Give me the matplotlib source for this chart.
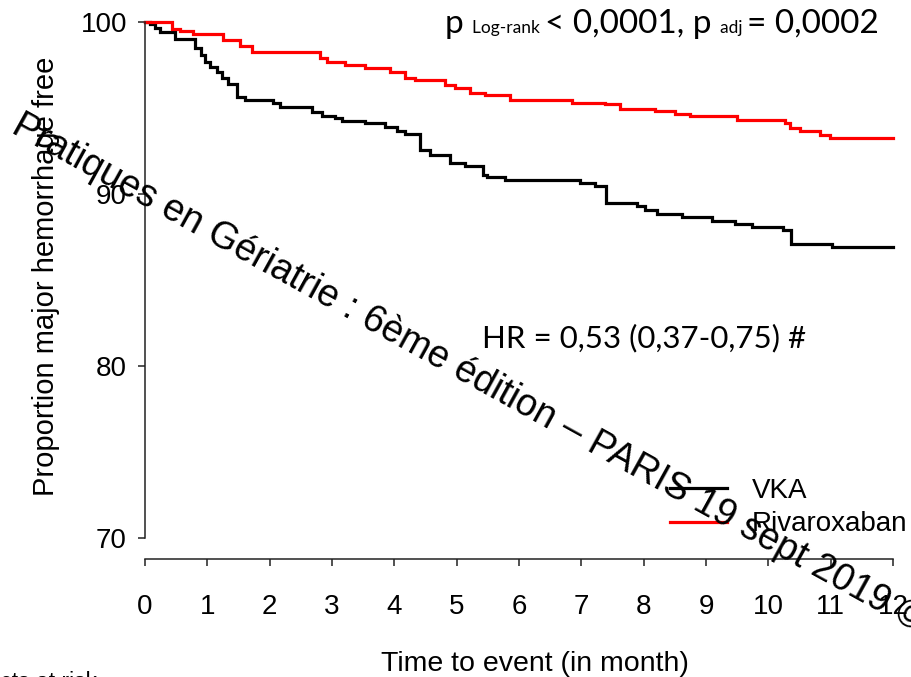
import matplotlib
matplotlib.use("Agg")
import matplotlib.pyplot as plt

W, H = 911, 677
DPI = 100

# ---- data ----
vka_t = [0, 0.08, 0.16, 0.24, 0.48, 0.80, 0.90, 0.97, 1.05, 1.15, 1.23, 1.33, 1.48, 1.60,
         2.05, 2.17, 2.68, 2.84, 3.05, 3.16, 3.53, 3.85, 4.04, 4.17, 4.41, 4.57, 4.89,
         5.13, 5.42, 5.49, 5.78, 6.98, 7.22, 7.40, 7.89, 8.02, 8.21, 8.62, 9.10, 9.47,
         9.74, 10.24, 10.36, 11.02, 12.0]
vka_v = [100, 99.88, 99.65, 99.44, 99.0, 98.5, 98.1, 97.67, 97.4, 97.1, 96.74, 96.4, 95.64, 95.47,
         95.29, 95.03, 94.77, 94.53, 94.42, 94.24, 94.13, 93.9, 93.66, 93.49, 92.56, 92.27, 91.8,
         91.63, 91.1, 90.99, 90.81, 90.64, 90.48, 89.48, 89.32, 89.07, 88.84, 88.66, 88.45, 88.26,
         88.1, 87.91, 87.09, 86.94, 86.94]

riva_t = [0, 0.43, 0.56, 0.77, 1.25, 1.52, 1.72, 2.80, 2.92, 3.21, 3.53, 3.93, 4.17, 4.33,
          4.81, 4.97, 5.21, 5.45, 5.86, 6.85, 7.38, 7.62, 8.18, 8.50, 8.74, 9.50, 10.27,
          10.35, 10.51, 10.83, 10.99, 12.0]
riva_v = [100, 99.6, 99.5, 99.3, 98.95, 98.6, 98.26, 97.9, 97.67, 97.5, 97.3, 97.1, 96.74, 96.63,
          96.34, 96.16, 95.87, 95.76, 95.47, 95.3, 95.23, 94.94, 94.83, 94.65, 94.55, 94.3, 94.13,
          93.85, 93.68, 93.43, 93.24, 93.24]

x_ticks = list(range(0, 13))
y_ticks = [70, 80, 90, 100]
series_names = ["VKA", "Rivaroxaban"]
series_colors = ["black", "#ff0000"]

ARIAL = "Liberation Sans"
CAL = "Lato"

fig = plt.figure(figsize=(W / DPI, H / DPI), dpi=DPI)
fig.patch.set_facecolor("white")

def fx(px):
    return px / W

def fy(py):
    return 1 - py / H

left, right, top, bottom = 145, 893, 22, 538
ax = fig.add_axes([fx(left), fy(bottom), (right - left) / W, (bottom - top) / H])
ax.set_xlim(0, 12)
ax.set_ylim(70, 100)
ax.patch.set_alpha(0)

ax.step(vka_t, vka_v, where="post", color=series_colors[0], lw=2.3, clip_on=False,
        label=series_names[0], solid_joinstyle="miter")
ax.step(riva_t, riva_v, where="post", color=series_colors[1], lw=2.3, clip_on=False,
        label=series_names[1], solid_joinstyle="miter")

for s in ["top", "right"]:
    ax.spines[s].set_visible(False)
ax.spines["left"].set_bounds(70, 100)
ax.spines["bottom"].set_position(("outward", 15))
ax.spines["bottom"].set_bounds(0, 12)
for s in ["left", "bottom"]:
    ax.spines[s].set_linewidth(1.1)
    ax.spines[s].set_color("#222222")

ax.set_xticks(x_ticks)
ax.set_yticks(y_ticks)
ax.tick_params(axis="both", direction="out", length=5, width=1.1, colors="#222222",
               labelcolor="black", labelsize=20)
ax.tick_params(axis="x", pad=20)
ax.tick_params(axis="y", pad=8)
for lab in ax.get_xticklabels() + ax.get_yticklabels():
    lab.set_fontfamily(ARIAL)

# axis labels
fig.text(fx(535), fy(664), "Time to event (in month)", fontsize=20.5, family=ARIAL,
         ha="center", va="center")
fig.text(fx(46), fy(276), "Proportion major hemorrhage free", fontsize=21, family=ARIAL,
         ha="center", va="center", rotation=90)

# legend
leg = ax.legend(loc="upper left", bbox_to_anchor=(fx(670), fy(478)), bbox_transform=fig.transFigure,
                frameon=False, handlelength=2.05, handletextpad=0.9,
                labelspacing=0.26, borderpad=0, borderaxespad=0, prop={"family": ARIAL, "size": 20})

# top-right p-value text built from pieces
pieces = [("p ", 24), ("Log-rank ", 12.5), ("< 0,0001, p ", 24), ("adj ", 12.5), ("= 0,0002", 24)]
fig.canvas.draw()
renderer = fig.canvas.get_renderer()
xpos = 445
for txt, sz in pieces:
    t = fig.text(fx(xpos), fy(33), txt, fontsize=sz, family=CAL, ha="left", va="baseline")
    bb = t.get_window_extent(renderer=renderer)
    xpos += bb.width

fig.text(fx(644), fy(338), "HR = 0,53 (0,37-0,75) #", fontsize=22.5, family=CAL,
         ha="center", va="center")

# bottom-left clipped text
fig.text(fx(97), fy(689), "Number of subjects at risk", fontsize=16.5, family=ARIAL,
         ha="right", va="baseline")

# watermark
fig.text(fx(10), fy(132), "Pratiques en Gériatrie : 6ème édition – PARIS 19 sept 2019 ©",
         fontsize=27.2, family=ARIAL, rotation=-28.9, rotation_mode="anchor",
         ha="left", va="baseline", color="black")

fig.savefig("out.png", dpi=DPI)
